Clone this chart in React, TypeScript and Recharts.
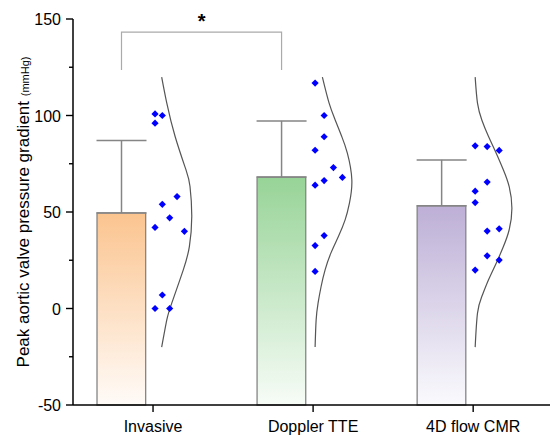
import {
  ComposedChart,
  XAxis,
  YAxis,
  Scatter,
  Line,
  ReferenceArea,
  ErrorBar,
} from 'recharts'

const categories = ['Invasive', 'Doppler TTE', '4D flow CMR']
const barMeans = [49.5, 68.1, 53.2]
const barUpperSd = [37.5, 29.1, 23.8]
const barTopColors = ['#fbc48f', '#97d397', '#bdafd6']
const barBottomColors = ['#fffbf8', '#f7fcf7', '#fafafd']

// individual measurements (value, horizontal jitter in category units)
const invasiveValues = [100.8, 100, 96, 58, 54, 47, 42, 40, 7, 0, 0]
const invasiveJitter = [0.0125, 0.058, 0.0125, 0.15, 0.058, 0.104, 0.0125, 0.196, 0.058, 0.0125, 0.104]
const dopplerValues = [116.8, 100, 89, 82, 73, 67.9, 66.3, 63.9, 37.8, 32.6, 19.2]
const dopplerJitter = [0.0125, 0.069, 0.069, 0.0125, 0.127, 0.183, 0.069, 0.0125, 0.069, 0.0125, 0.0125]
const cmrValues = [84.3, 83.9, 81.9, 65.5, 60.8, 54.9, 40.1, 41.3, 27.3, 25.1, 19.9]
const cmrJitter = [0.0125, 0.0875, 0.1625, 0.0875, 0.0125, 0.0125, 0.0875, 0.1625, 0.0875, 0.1625, 0.0125]

// distribution curves (value, width in category units)
const invasiveCurveY = [119.9, 106.4, 89.1, 71.8, 63.2, 47.7, 32.1, 20, 2.8, -5.9, -20]
const invasiveCurveW = [0.054, 0.086, 0.138, 0.206, 0.231, 0.242, 0.227, 0.189, 0.117, 0.086, 0.054]
const dopplerCurveY = [119.9, 106.4, 97.7, 89.1, 80.5, 66.7, 54.6, 45.9, 37.3, 28.7, 20, 11.4, 2.8, -5.9, -20]
const dopplerCurveW = [0.058, 0.1, 0.138, 0.179, 0.214, 0.242, 0.227, 0.2, 0.158, 0.111, 0.075, 0.05, 0.031, 0.019, 0.0125]
const cmrCurveY = [119.9, 106.4, 97.7, 89.1, 80.5, 71.8, 63.2, 52, 40.8, 32.1, 23.5, 14.9, 6.2, -2.4, -20]
const cmrCurveW = [0.0125, 0.027, 0.054, 0.096, 0.144, 0.189, 0.225, 0.242, 0.225, 0.189, 0.144, 0.096, 0.054, 0.027, 0.0125]

const yTicks = [-50, -25, 0, 25, 50, 75, 100, 125, 150]
const bracketX = [-0.197, -0.197, 0.803, 0.803]
const bracketY = [123.6, 143.2, 143.2, 123.6]
const starLabel = '*'
const starY = 145.2

const barLeft = -0.35
const barRight = -0.046
const barMid = -0.197

const pointSets = [
  { values: invasiveValues, jitter: invasiveJitter },
  { values: dopplerValues, jitter: dopplerJitter },
  { values: cmrValues, jitter: cmrJitter },
]
const curveSets = [
  { ys: invasiveCurveY, ws: invasiveCurveW },
  { ys: dopplerCurveY, ws: dopplerCurveW },
  { ys: cmrCurveY, ws: cmrCurveW },
]

const FONT = '"Liberation Sans", Arial, sans-serif'

function Diamond(props: any) {
  const { cx, cy } = props
  const r = 3.6
  return (
    <polygon
      points={`${cx},${cy - r} ${cx + r},${cy} ${cx},${cy + r} ${cx - r},${cy}`}
      fill="#0000ff"
    />
  )
}

function YTick(props: any) {
  const { x, y, payload } = props
  const major = payload.value % 50 === 0
  const ax = x + 12
  return (
    <g>
      <line
        x1={ax - (major ? 7 : 4)}
        x2={ax}
        y1={y}
        y2={y}
        stroke="#000"
        strokeWidth={1.4}
      />
      {major && (
        <text
          x={x}
          y={y}
          dy={6}
          textAnchor="end"
          fontSize={16}
          fontFamily={FONT}
          fill="#000"
        >
          {payload.value}
        </text>
      )}
    </g>
  )
}

function YLabel() {
  return (
    <text
      x={29}
      y={212}
      transform="rotate(-90, 29, 212)"
      textAnchor="middle"
      fontFamily={FONT}
      fill="#000"
    >
      <tspan fontSize={17}>Peak aortic valve pressure gradient </tspan>
      <tspan fontSize={11}>(mmHg)</tspan>
    </text>
  )
}

function Star(props: any) {
  return (
    <text
      x={props.cx}
      y={props.cy}
      textAnchor="middle"
      fontSize={20}
      fontWeight="bold"
      fontFamily={FONT}
      fill="#000"
    >
      {starLabel}
    </text>
  )
}

export default function App() {
  const meanData = barMeans.map((m, i) => ({
    x: i + barMid,
    y: m,
    err: [0, barUpperSd[i]],
  }))

  return (
    <div style={{ position: 'absolute', left: 0, top: 0, background: '#fff' }}>
      <ComposedChart
        width={553}
        height={435}
        margin={{ top: 19, right: 3, left: 0, bottom: 0 }}
      >
        <defs>
          {barTopColors.map((c, i) => (
            <linearGradient key={i} id={`barGrad${i}`} x1="0" y1="0" x2="0" y2="1">
              <stop offset="0%" stopColor={c} />
              <stop offset="100%" stopColor={barBottomColors[i]} />
            </linearGradient>
          ))}
        </defs>

        <XAxis
          type="number"
          dataKey="x"
          domain={[-0.5, 2.48]}
          ticks={[0, 1, 2]}
          tickFormatter={(v) => categories[v] ?? ''}
          height={30}
          tickSize={7}
          tickMargin={9}
          axisLine={{ stroke: '#000', strokeWidth: 1.5 }}
          tickLine={{ stroke: '#000', strokeWidth: 1.4 }}
          tick={{ fill: '#000', fontSize: 16, fontFamily: FONT }}
        />
        <YAxis
          type="number"
          dataKey="y"
          domain={[-50, 150]}
          ticks={yTicks}
          width={73}
          tickSize={7}
          tickMargin={5}
          tickLine={false}
          axisLine={{ stroke: '#000', strokeWidth: 1.5 }}
          tick={<YTick />}
          label={{ content: () => <YLabel /> }}
        />

        {barMeans.map((m, i) => (
          <ReferenceArea
            key={`bar${i}`}
            x1={i + barLeft}
            x2={i + barRight}
            y1={-50}
            y2={m}
            fill={`url(#barGrad${i})`}
            fillOpacity={1}
            stroke="#858585"
            strokeWidth={1.3}
            ifOverflow="visible"
          />
        ))}

        <Scatter
          data={meanData}
          shape={() => <g />}
          isAnimationActive={false}
        >
          <ErrorBar
            dataKey="err"
            direction="y"
            width={25}
            stroke="#858585"
            strokeWidth={1.5}
            isAnimationActive={false}
          />
        </Scatter>

        {curveSets.map((c, i) => (
          <Line
            key={`curve${i}`}
            data={c.ys.map((y, k) => ({ x: i + c.ws[k], y }))}
            dataKey="y"
            type="natural"
            stroke="#555"
            strokeWidth={1.2}
            dot={false}
            activeDot={false}
            isAnimationActive={false}
          />
        ))}

        {pointSets.map((p, i) => (
          <Scatter
            key={`pts${i}`}
            data={p.values.map((v, k) => ({ x: i + p.jitter[k], y: v }))}
            shape={<Diamond />}
            isAnimationActive={false}
          />
        ))}

        <Line
          data={bracketX.map((x, k) => ({ x, y: bracketY[k] }))}
          dataKey="y"
          type="linear"
          stroke="#aaaaaa"
          strokeWidth={1.2}
          dot={false}
          activeDot={false}
          isAnimationActive={false}
        />

        <Scatter
          data={[{ x: (bracketX[0] + bracketX[2]) / 2, y: starY }]}
          shape={<Star />}
          isAnimationActive={false}
        />
      </ComposedChart>
    </div>
  )
}
